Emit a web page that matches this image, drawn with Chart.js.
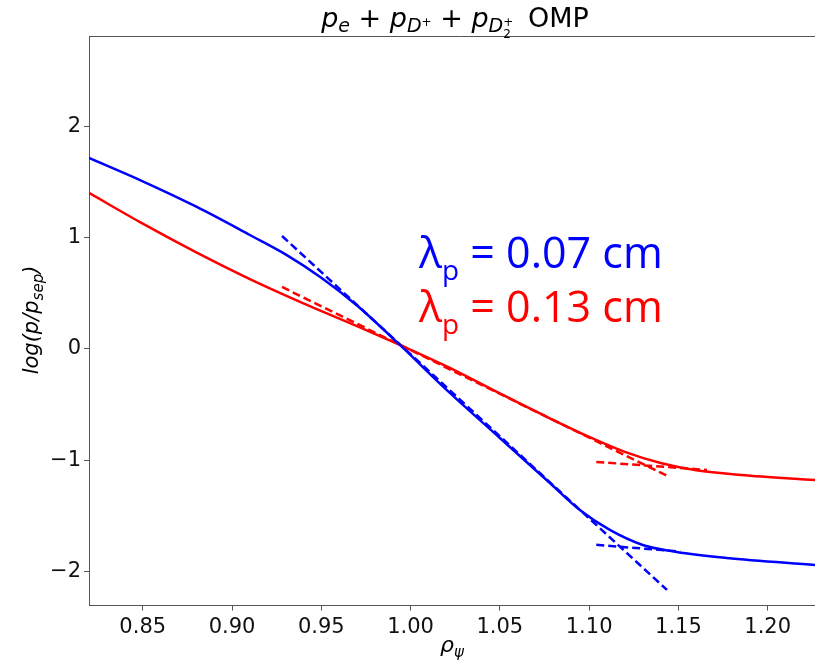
<!DOCTYPE html>
<html>
<head>
<meta charset="utf-8">
<script src="https://cdn.jsdelivr.net/npm/chart.js@4.4.0/dist/chart.umd.min.js"></script>
<style>
  html, body { margin: 0; padding: 0; background: #fff; overflow: hidden; width: 815px; height: 661px; }
  #wrap { width: 815px; height: 661px; overflow: hidden; }
  canvas { display: block; }
</style>
</head>
<body>
<div id="wrap"><canvas id="chart" width="830" height="661"></canvas></div>
<script>
// Data
const blueRho  = [0.8199, 0.850, 0.880, 0.910, 0.930, 0.950, 0.970, 0.994, 1.022, 1.050, 1.078, 1.0948, 1.1116, 1.130, 1.149, 1.177, 1.2265];
const blueLogP = [1.716, 1.506, 1.278, 1.024, 0.850, 0.640, 0.390, 0.036, -0.395, -0.800, -1.204, -1.447, -1.626, -1.761, -1.824, -1.878, -1.941];
const redRho   = [0.8199, 0.850, 0.880, 0.910, 0.940, 0.970, 0.994, 1.022, 1.050, 1.075, 1.100, 1.120, 1.140, 1.160, 1.185, 1.2265];
const redLogP  = [1.402, 1.126, 0.868, 0.628, 0.410, 0.205, 0.036, -0.170, -0.400, -0.600, -0.790, -0.925, -1.025, -1.090, -1.132, -1.177];

// dashed fit lines: [rho, logp] end points
const blueFitCore = [[0.928, 1.015], [1.1436, -2.165]];
const blueFitSol  = [[1.104, -1.76], [1.151, -1.82]];
const redFitCore  = [[0.928, 0.557], [1.1436, -1.14]];
const redFitSol   = [[1.104, -1.015], [1.166, -1.087]];

const xTicks = [0.85, 0.90, 0.95, 1.00, 1.05, 1.10, 1.15, 1.20];
const yTicks = [-2, -1, 0, 1, 2];

const BLUE = '#0000ff';
const RED = '#ff0000';
const AXIS = '#555555';

const toPts = (xs, ys) => xs.map((x, i) => ({ x: x, y: ys[i] }));
const pairPts = arr => arr.map(p => ({ x: p[0], y: p[1] }));

function curve(data, color) {
    return {
        data: data, borderColor: color, borderWidth: 2.5, pointRadius: 0,
        cubicInterpolationMode: 'monotone', fill: false
    };
}
function fit(data, color) {
    return {
        data: data, borderColor: color, borderWidth: 2.5, pointRadius: 0,
        borderDash: [8, 4], fill: false
    };
}

// draw text pieces one after another (for sub/superscripts)
function drawRich(ctx, parts, x, y, align) {
    let w = 0;
    parts.forEach(p => {
        ctx.font = p.font;
        p.w = ctx.measureText(p.t).width;
        if (p.adv !== 0) w += p.w;
    });
    let cx = align === 'center' ? x - w / 2 : x;
    parts.forEach(p => {
        ctx.font = p.font;
        ctx.fillStyle = p.color || '#000';
        ctx.fillText(p.t, cx, y + (p.dy || 0));
        if (p.adv !== 0) cx += p.w;
    });
}

const F = '"DejaVu Sans"';
const it = s => 'italic ' + s + 'px ' + F;
const rm = s => s + 'px ' + F;

const decorPlugin = {
    id: 'decor',
    afterDraw(chart) {
        const ctx = chart.ctx;
        const a = chart.chartArea;
        ctx.save();
        // top spine (the right one is cropped off like in the picture)
        ctx.strokeStyle = AXIS;
        ctx.lineWidth = 1;
        ctx.beginPath();
        ctx.moveTo(a.left, a.top + 0.5);
        ctx.lineTo(a.right, a.top + 0.5);
        ctx.stroke();

        ctx.textBaseline = 'alphabetic';
        // title
        drawRich(ctx, [
            { t: 'p', font: it(27) },
            { t: 'e', font: it(19), dy: 5 },
            { t: ' + ', font: rm(27) },
            { t: 'p', font: it(27) },
            { t: 'D', font: it(19), dy: 5 },
            { t: '+', font: rm(12), dy: -1 },
            { t: ' + ', font: rm(27) },
            { t: 'p', font: it(27) },
            { t: 'D', font: it(19), dy: 5 },
            { t: '+', font: rm(12), dy: -1, adv: 0 },
            { t: '2', font: rm(12), dy: 11 },
            { t: '  OMP', font: rm(27) }
        ], 455, 27, 'center');

        // x axis label
        drawRich(ctx, [
            { t: 'ρ', font: it(22) },
            { t: 'ψ', font: it(15), dy: 5 }
        ], 452, 652, 'center');

        // y axis label
        ctx.save();
        ctx.translate(38, 320);
        ctx.rotate(-Math.PI / 2);
        drawRich(ctx, [
            { t: 'log(p/p', font: it(21) },
            { t: 'sep', font: it(15), dy: 5 },
            { t: ')', font: it(21) }
        ], 0, 0, 'center');
        ctx.restore();

        // decay length annotations
        const AF = s => s + 'px "Open Sans"';
        drawRich(ctx, [
            { t: 'λ', font: AF(43), color: BLUE },
            { t: 'p', font: AF(28), dy: 12, color: BLUE },
            { t: ' = 0.07 cm', font: AF(43), color: BLUE }
        ], 419, 268, 'left');
        drawRich(ctx, [
            { t: 'λ', font: AF(43), color: RED },
            { t: 'p', font: AF(28), dy: 12, color: RED },
            { t: ' = 0.13 cm', font: AF(43), color: RED }
        ], 419, 322, 'left');
        ctx.restore();
    }
};

new Chart(document.getElementById('chart'), {
    type: 'line',
    data: {
        datasets: [
            curve(toPts(blueRho, blueLogP), BLUE),
            curve(toPts(redRho, redLogP), RED),
            fit(pairPts(blueFitCore), BLUE),
            fit(pairPts(blueFitSol), BLUE),
            fit(pairPts(redFitCore), RED),
            fit(pairPts(redFitSol), RED)
        ]
    },
    options: {
        responsive: false,
        animation: false,
        layout: { padding: { top: 36, right: 0, left: 0, bottom: 0 } },
        plugins: { legend: { display: false }, tooltip: { enabled: false } },
        scales: {
            x: {
                type: 'linear',
                min: 0.8199,
                max: 1.2349,
                afterBuildTicks: s => { s.ticks = xTicks.map(v => ({ value: v })); },
                afterFit: s => { s.height = 55.5; },
                grid: { drawOnChartArea: false, tickLength: 5, color: AXIS },
                border: { color: AXIS },
                ticks: {
                    color: '#111', padding: 4, maxRotation: 0,
                    font: { family: 'DejaVu Sans', size: 21 },
                    callback: v => v.toFixed(2)
                }
            },
            y: {
                min: -2.305,
                max: 2.812,
                afterBuildTicks: s => { s.ticks = yTicks.map(v => ({ value: v })); },
                afterFit: s => { s.width = 89; },
                grid: { drawOnChartArea: false, tickLength: 5, color: AXIS },
                border: { color: AXIS },
                ticks: {
                    color: '#111', padding: 3,
                    font: { family: 'DejaVu Sans', size: 21 },
                    callback: v => (v < 0 ? '\u2212' + Math.abs(v) : String(v))
                }
            }
        }
    },
    plugins: [decorPlugin]
});
</script>
</body>
</html>
